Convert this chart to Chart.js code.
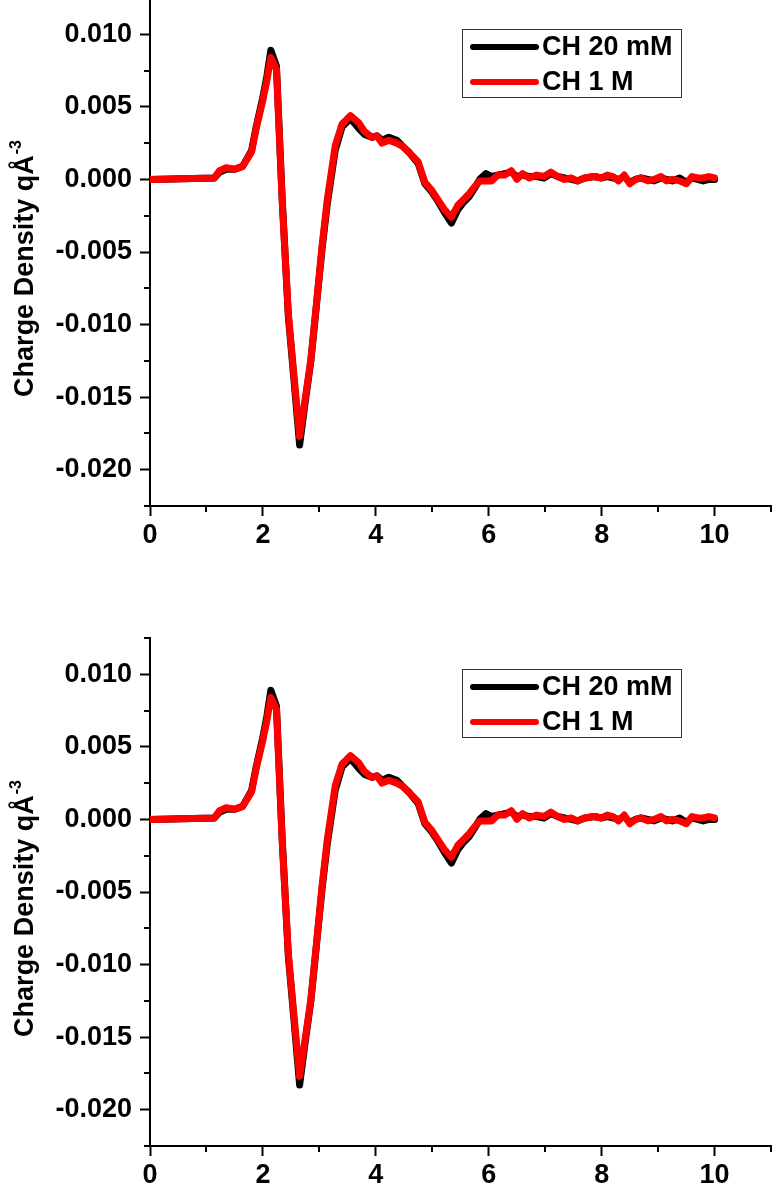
<!DOCTYPE html>
<html>
<head>
<meta charset="utf-8">
<script src="https://cdn.jsdelivr.net/npm/chart.js@4.4.1/dist/chart.umd.min.js"></script>
<style>
  html, body { margin: 0; padding: 0; background: #fff; overflow: hidden; }
  body { width: 780px; height: 1190px; position: relative; }
  canvas { position: absolute; left: 0; }
  #top-chart { top: -40px; }
  #bottom-chart { top: 600px; }
</style>
</head>
<body>
<canvas id="top-chart" width="780" height="640"></canvas>
<canvas id="bottom-chart" width="780" height="640"></canvas>
<script>
// distance (x) and charge density for the two concentrations
const distance = [
  0, 1.14, 1.23, 1.35, 1.50, 1.64, 1.80, 1.88, 1.99, 2.07,
  2.14, 2.24, 2.34, 2.45, 2.55, 2.65, 2.75, 2.85, 2.95, 3.05,
  3.14, 3.28, 3.40, 3.55, 3.70, 3.80, 3.93, 4.02, 4.11, 4.23,
  4.37, 4.47, 4.58, 4.75, 4.87, 5.00, 5.10, 5.22, 5.34, 5.45,
  5.55, 5.65, 5.75, 5.84, 5.95, 6.05, 6.16, 6.28, 6.40, 6.50,
  6.60, 6.72, 6.85, 6.98, 7.10, 7.22, 7.34, 7.46, 7.57, 7.70,
  7.87, 8.00, 8.10, 8.20, 8.30, 8.40, 8.50, 8.60, 8.70, 8.82,
  8.93, 9.05, 9.15, 9.25, 9.38, 9.50, 9.60, 9.70, 9.80, 9.90,
  10.00
];

const ch20mM = [
  0, 0.0001, 0.0005, 0.0007, 0.0007, 0.0009, 0.0020, 0.0036, 0.0055, 0.0071,
  0.0089, 0.0078, -0.0012, -0.0094, -0.0138, -0.0183, -0.0153, -0.0125, -0.0086, -0.0047,
  -0.0017, 0.0020, 0.0036, 0.0042, 0.0035, 0.0031, 0.0029, 0.0030, 0.0027, 0.0029,
  0.0027, 0.0023, 0.0019, 0.0011, -0.0003, -0.0009, -0.0015, -0.0023, -0.0030, -0.0021,
  -0.0016, -0.0012, -0.0006, 0.0000, 0.0004, 0.0002, 0.0003, 0.0004, 0.0005, 0.0002,
  0.0003, 0.0002, 0.0002, 0.0001, 0.0004, 0.0002, 0.0001, 0.0000, -0.0001, 0.0001,
  0.0002, 0.0001, 0.0002, 0.0001, 0.0000, 0.0002, -0.0002, 0.0000, 0.0001, 0.0000,
  -0.0001, 0.0001, 0.0000, -0.0001, 0.0001, -0.0002, 0.0001, 0.0000, -0.0001, 0.0000,
  0.0000
];

const ch1M = [
  0, 0.0001, 0.0006, 0.0008, 0.0007, 0.0009, 0.0019, 0.0035, 0.0053, 0.0068,
  0.0084, 0.0076, -0.0014, -0.0092, -0.0135, -0.0177, -0.0151, -0.0124, -0.0085, -0.0045,
  -0.0014, 0.0023, 0.0038, 0.0044, 0.0039, 0.0033, 0.0029, 0.0030, 0.0025, 0.0027,
  0.0025, 0.0023, 0.0019, 0.0012, -0.0002, -0.0008, -0.0014, -0.0021, -0.0026, -0.0018,
  -0.0014, -0.0010, -0.0005, -0.0001, -0.0001, -0.0001, 0.0003, 0.0003, 0.0006, 0.0000,
  0.0004, 0.0001, 0.0003, 0.0002, 0.0005, 0.0002, 0.0000, 0.0001, -0.0001, 0.0001,
  0.0002, 0.0001, 0.0003, 0.0002, -0.0001, 0.0003, -0.0003, 0.0000, 0.0001, -0.0001,
  0.0000, 0.0002, -0.0001, 0.0000, -0.0001, -0.0003, 0.0002, 0.0001, 0.0001, 0.0002,
  0.0001
];

const xTickLabels = ["0", "2", "4", "6", "8", "10"];
const yTickLabels = ["-0.020", "-0.015", "-0.010", "-0.005", "0.000", "0.005", "0.010"];
const titleMain = "Charge Density qÅ";
const titleSup = "-3";

const FONT = '"Liberation Sans", Arial, sans-serif';

const fmtY = v => (Math.abs(v) < 1e-9 ? 0 : v).toFixed(3);
const isMajorY = v => yTickLabels.includes(fmtY(v));
const isMajorX = v => xTickLabels.includes(String(Math.round(v)));

// short minor ticks between labelled ones
const minorTicks = {
  id: "minorTicks",
  afterDraw(chart) {
    const { ctx } = chart;
    const { x, y } = chart.scales;
    ctx.save();
    ctx.strokeStyle = "#000";
    ctx.lineWidth = 2;
    ctx.beginPath();
    y.ticks.forEach(t => {
      if (isMajorY(t.value)) return;
      const py = Math.round(y.getPixelForValue(t.value));
      ctx.moveTo(y.right - 6, py);
      ctx.lineTo(y.right, py);
    });
    x.ticks.forEach(t => {
      if (isMajorX(t.value)) return;
      const px = Math.round(x.getPixelForValue(t.value));
      ctx.moveTo(px, x.top);
      ctx.lineTo(px, x.top + 6);
    });
    ctx.stroke();
    ctx.restore();
  }
};

// boxed legend inside the plot
const boxLegend = {
  id: "boxLegend",
  afterDatasetsDraw(chart) {
    const { ctx, chartArea } = chart;
    const left = chartArea.left + 312;
    const top = chartArea.top + 31;
    ctx.save();
    ctx.strokeStyle = "#333";
    ctx.lineWidth = 1;
    ctx.strokeRect(left + 0.5, top + 0.5, 219, 68);
    ctx.textBaseline = "middle";
    ctx.font = "bold 27px " + FONT;
    chart.data.datasets.forEach((ds, i) => {
      const ly = top + 18 + i * 35;
      ctx.strokeStyle = ds.borderColor;
      ctx.lineWidth = 6;
      ctx.lineCap = "round";
      ctx.beginPath();
      ctx.moveTo(left + 11, ly);
      ctx.lineTo(left + 74, ly);
      ctx.stroke();
      ctx.fillStyle = "#000";
      ctx.fillText(ds.label, left + 80, ly + 1);
    });
    ctx.restore();
  }
};

// rotated y title with a real superscript
const yTitle = {
  id: "yTitle",
  afterDraw(chart) {
    const { ctx, chartArea } = chart;
    const cy = (chartArea.top + chartArea.bottom) / 2 + 17;
    ctx.save();
    ctx.translate(33, cy);
    ctx.rotate(-Math.PI / 2);
    ctx.fillStyle = "#000";
    ctx.textBaseline = "alphabetic";
    ctx.font = "bold 27px " + FONT;
    const w1 = ctx.measureText(titleMain).width;
    ctx.font = "bold 16px " + FONT;
    const w2 = ctx.measureText(titleSup).width;
    const start = -(w1 + w2) / 2;
    ctx.font = "bold 27px " + FONT;
    ctx.fillText(titleMain, start, 0);
    ctx.font = "bold 16px " + FONT;
    ctx.fillText(titleSup, start + w1 + 1, -12);
    ctx.restore();
  }
};

function makeConfig() {
  const tickFont = { family: FONT, size: 27, weight: "bold" };
  return {
    type: "line",
    data: {
      datasets: [
        {
          label: "CH 20 mM",
          data: distance.map((x, i) => ({ x, y: ch20mM[i] })),
          borderColor: "#000000",
          borderWidth: 7,
          pointRadius: 0,
          tension: 0,
          borderJoinStyle: "round",
          borderCapStyle: "round",
          order: 2,
        },
        {
          label: "CH 1 M",
          data: distance.map((x, i) => ({ x, y: ch1M[i] })),
          borderColor: "#ff0000",
          borderWidth: 7,
          pointRadius: 0,
          tension: 0,
          borderJoinStyle: "round",
          borderCapStyle: "round",
          order: 1,
        },
      ],
    },
    options: {
      responsive: false,
      animation: false,
      layout: { padding: { top: 38, right: 9, left: 0, bottom: 0 } },
      plugins: {
        legend: { display: false },
        tooltip: { enabled: false },
      },
      scales: {
        x: {
          type: "linear",
          min: 0,
          max: 11,
          afterFit: s => { s.height = 94; },
          border: { color: "#000", width: 2 },
          grid: {
            drawOnChartArea: false,
            drawTicks: true,
            tickLength: 10,
            tickWidth: 2,
            tickColor: c => (isMajorX(c.tick.value) ? "#000" : "rgba(0,0,0,0)"),
          },
          ticks: {
            stepSize: 1,
            autoSkip: false,
            maxRotation: 0,
            padding: 3,
            color: "#000",
            font: tickFont,
            callback: v => (isMajorX(v) ? String(Math.round(v)) : ""),
          },
        },
        y: {
          min: -0.0225,
          max: 0.0125,
          afterFit: s => { s.width = 150; },
          border: { color: "#000", width: 2 },
          grid: {
            drawOnChartArea: false,
            drawTicks: true,
            tickLength: 10,
            tickWidth: 2,
            tickColor: c => (isMajorY(c.tick.value) ? "#000" : "rgba(0,0,0,0)"),
          },
          ticks: {
            stepSize: 0.0025,
            autoSkip: false,
            padding: 8,
            color: "#000",
            font: tickFont,
            callback: v => (isMajorY(v) ? fmtY(v) : ""),
          },
        },
      },
    },
    plugins: [minorTicks, boxLegend, yTitle],
  };
}

new Chart(document.getElementById("top-chart"), makeConfig());
new Chart(document.getElementById("bottom-chart"), makeConfig());
</script>
</body>
</html>
